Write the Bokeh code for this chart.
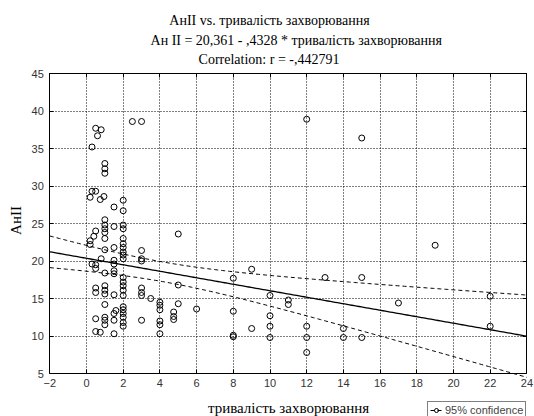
import numpy as np
from bokeh.plotting import figure
from bokeh.models import Label, LinearAxis, Range1d, Legend, LegendItem, FixedTicker
from bokeh.embed import file_html
from bokeh.resources import INLINE

# --- data ---
duration = [2.5, 3.0, 0.5, 0.8, 0.6, 0.3, 1.0, 1.0, 1.0, 12.0, 15.0,
             0.3, 0.5, 0.2, 0.75, 0.95, 1.5, 2.0, 2.0, 1.0, 1.0, 1.5, 2.0, 2.0, 0.5,
             1.0, 1.0, 1.0, 0.4, 0.2, 0.2, 2.0, 2.0, 2.0, 1.5, 1.0, 3.0, 3.0, 3.0, 2.0,
             1.5, 0.8, 5.0, 0.3, 0.5, 0.5, 1.5, 1.5, 1.0, 1.5, 2.0, 2.0,
             2.0, 2.0, 2.0, 2.0, 2.0, 1.0, 1.0, 1.0, 0.5, 0.5, 1.5, 3.0, 3.0, 3.0, 3.5,
             5.0, 4.0, 4.0, 4.0, 5.0, 6.0, 1.0, 2.0, 2.0, 1.6, 1.5, 2.0, 2.0, 2.0, 2.0,
             1.0, 1.0, 1.0, 0.5, 1.5, 3.0, 4.0, 4.0, 4.0, 4.75, 4.75, 4.75, 0.5, 0.75, 1.5,
             9.0, 8.0, 13.0, 10.0, 11.0, 11.0, 8.0, 10.0, 10.0, 9.0, 12.0, 14.0, 8.0, 8.0,
             10.0, 12.0, 14.0, 15.0, 12.0, 19.0, 15.0, 17.0, 22.0, 22.0]
anii = [38.6, 38.6, 37.7, 37.5, 36.7, 35.2, 33.0, 32.3, 31.7, 38.9, 36.4,
        29.3, 29.3, 28.5, 28.2, 28.6, 27.2, 28.1, 26.7, 25.5, 24.3, 24.6, 24.8, 24.3, 24.0,
        24.8, 23.8, 23.0, 23.3, 22.7, 22.2, 23.0, 22.3, 21.8, 21.8, 21.5, 21.4, 20.3, 20.0, 20.3,
        20.1, 20.3, 23.6, 19.6, 19.5, 19.0, 19.6, 18.7, 18.4, 18.3, 21.2, 20.8,
        17.8, 17.2, 16.7, 16.1, 15.4, 16.7, 16.1, 15.6, 16.4, 15.8, 15.5, 16.4, 15.8, 15.4, 15.0,
        16.8, 14.5, 14.1, 13.5, 14.3, 13.6, 14.2, 13.9, 13.5, 13.4, 13.0, 13.0, 12.5, 11.8, 11.3,
        12.5, 12.1, 11.5, 12.3, 12.1, 12.1, 12.0, 11.5, 10.3, 13.2, 12.6, 12.2, 10.6, 10.5, 10.3,
        18.9, 17.7, 17.8, 15.4, 14.8, 14.2, 13.3, 12.7, 11.3, 11.0, 11.3, 11.0, 10.1, 9.9,
        9.8, 9.8, 9.8, 9.8, 7.8, 22.1, 17.8, 14.4, 15.3, 11.3]

intercept = 20.361
slope = -0.4328

x_ticks = list(range(-2, 25, 2))
y_ticks = list(range(5, 46, 5))
x_lo, x_hi = -2, 24
y_lo, y_hi = 5, 45

title_lines = ["АнII vs. тривалість захворювання",
               "Ан II = 20,361 - ,4328  * тривалість захворювання",
               "Correlation: r = -,442791"]
x_label = "тривалість захворювання"
y_label = "АнII"
legend_label = "95% confidence"

# --- canvas geometry: plot box inside a full-canvas frame ---
W, H = 534, 416
BOX_L, BOX_R, BOX_T, BOX_B = 49.3, 526.4, 73, 373
kx = (x_hi - x_lo) / (BOX_R - BOX_L)
ky = (y_hi - y_lo) / (BOX_B - BOX_T)


def dx(cx):
    return x_lo + (cx - BOX_L) * kx


def dy(cy):
    return y_lo + (BOX_B - cy) * ky


p = figure(width=W, height=H, output_backend="svg", toolbar_location=None,
           x_range=Range1d(dx(0), dx(W)), y_range=Range1d(dy(H), dy(0)),
           min_border_left=0, min_border_right=0, min_border_top=0, min_border_bottom=0)
p.outline_line_color = None
p.background_fill_color = "white"
p.border_fill_color = "white"

tick_font = "Liberation Sans"
xa = p.xaxis[0]
ya = p.yaxis[0]
xa.fixed_location = y_lo
ya.fixed_location = x_lo
xa.bounds = (x_lo, x_hi)
ya.bounds = (y_lo, y_hi)
xa.ticker = FixedTicker(ticks=x_ticks)
ya.ticker = FixedTicker(ticks=y_ticks)
for ax in (xa, ya):
    ax.major_tick_in = 4
    ax.major_tick_out = 0
    ax.minor_tick_line_color = None
    ax.axis_line_color = "black"
    ax.major_tick_line_color = "black"
    ax.major_label_text_font = tick_font
    ax.major_label_text_font_size = "11px"
    ax.major_label_text_color = "#333333"
xa.major_label_standoff = 5
ya.major_label_standoff = 6

top = LinearAxis(ticker=FixedTicker(ticks=x_ticks), fixed_location=y_hi, bounds=(x_lo, x_hi),
                 major_tick_in=4, major_tick_out=0, minor_tick_line_color=None,
                 major_label_text_color=None, axis_line_color="black")
right = LinearAxis(ticker=FixedTicker(ticks=y_ticks), fixed_location=x_hi, bounds=(y_lo, y_hi),
                   major_tick_in=4, major_tick_out=0, minor_tick_line_color=None,
                   major_label_text_color=None, axis_line_color="black")
p.add_layout(top, "above")
p.add_layout(right, "right")

xg = p.xgrid[0]
yg = p.ygrid[0]
xg.ticker = FixedTicker(ticks=x_ticks[1:-1])
yg.ticker = FixedTicker(ticks=y_ticks[1:-1])
use_segments = False
try:
    xg.cross_bounds = (y_lo, y_hi)
    yg.cross_bounds = (x_lo, x_hi)
except Exception:
    use_segments = True
if use_segments:
    xg.visible = False
    yg.visible = False
    gx = x_ticks[1:-1]
    gy = y_ticks[1:-1]
    p.segment(x0=gx, y0=[y_lo] * len(gx), x1=gx, y1=[y_hi] * len(gx),
              line_color="black", line_dash="1 2", line_width=1)
    p.segment(x0=[x_lo] * len(gy), y0=gy, x1=[x_hi] * len(gy), y1=gy,
              line_color="black", line_dash="1 2", line_width=1)
else:
    for g in (xg, yg):
        g.grid_line_color = "black"
        g.grid_line_dash = "1 2"
        g.grid_line_width = 1
        g.grid_line_alpha = 1.0

# --- regression and 95% confidence band computed from the data ---
x = np.array(duration)
y = np.array(anii)
n = len(x)
xbar = x.mean()
sxx = ((x - xbar) ** 2).sum()
resid = y - (intercept + slope * x)
s = np.sqrt((resid ** 2).sum() / (n - 2))
t_crit = 1.98
xs = np.linspace(x_lo, x_hi, 200)
fit = intercept + slope * xs
hw = t_crit * s * np.sqrt(1.0 / n + (xs - xbar) ** 2 / sxx)

p.line(xs, fit, line_color="black", line_width=1.3)
up = p.line(xs, fit + hw, line_color="black", line_width=1, line_dash="4 3")
p.line(xs, fit - hw, line_color="black", line_width=1, line_dash="4 3")
pts = p.scatter(duration, anii, marker="circle", size=6, fill_color=None,
                line_color="black", line_width=1)

# --- texts ---
serif = "Liberation Serif"
title_pos = [(269, 20), (297.5, 39.5), (268.5, 59)]
for txt, (cx, cy) in zip(title_lines, title_pos):
    p.add_layout(Label(x=dx(cx), y=dy(cy), text=txt, text_align="center",
                       text_baseline="alphabetic", text_font=serif,
                       text_font_size="14px", text_color="black"))

p.add_layout(Label(x=dx(288), y=dy(407), text=x_label, text_align="center",
                   text_baseline="alphabetic", text_font=serif,
                   text_font_size="15px", text_color="black"))
p.add_layout(Label(x=dx(15), y=dy(220), text=y_label, text_align="center",
                   text_baseline="alphabetic", angle=np.pi / 2, text_font=serif,
                   text_font_size="15px", text_color="black"))

legend = Legend(items=[LegendItem(label=legend_label, renderers=[up, pts])],
                location=(427, -3), orientation="horizontal",
                border_line_color="black", border_line_width=1,
                background_fill_color="white", background_fill_alpha=1,
                padding=2, margin=0, spacing=0, label_standoff=3,
                glyph_width=12, glyph_height=10,
                label_text_font=tick_font, label_text_font_size="11px",
                label_height=10)
p.add_layout(legend)

open("out.html", "w").write(file_html(p, INLINE))
